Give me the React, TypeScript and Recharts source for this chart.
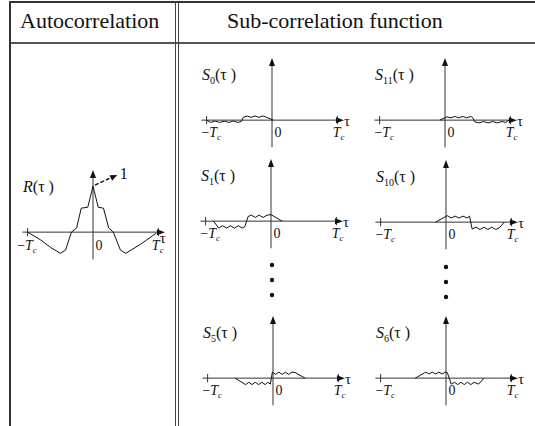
import React from 'react';
import {
  ComposedChart,
  ScatterChart,
  Line,
  Scatter,
  XAxis,
  YAxis,
  ReferenceLine,
} from 'recharts';

// tau in units of Tc, value normalised so R(0) = 1
const rTau = [-1, -0.8, -0.65, -0.5, -0.42, -0.33, -0.25, -0.18, -0.08, 0, 0.08, 0.16, 0.24, 0.31, 0.42, 0.5, 0.73, 0.97];
const rVal = [0, -0.17, -0.33, -0.46, -0.39, 0, 0.09, 0.52, 0.54, 1, 0.54, 0.52, 0.09, 0, -0.39, -0.46, -0.26, -0.02];

const s0Tau = [-1, -0.94, -0.87, -0.8, -0.73, -0.66, -0.59, -0.52, -0.47, -0.44, -0.38, -0.32, -0.26, -0.2, -0.14, -0.08, 0.02];
const s0Val = [0, -0.05, -0.02, -0.05, -0.02, -0.05, -0.02, -0.05, -0.03, 0.06, 0.09, 0.06, 0.09, 0.06, 0.09, 0.06, 0];

const s11Tau = [-0.08, 0.03, 0.09, 0.15, 0.21, 0.27, 0.33, 0.39, 0.42, 0.46, 0.52, 0.59, 0.66, 0.73, 0.8, 0.87, 0.93, 0.98];
const s11Val = [0, 0.07, 0.05, 0.08, 0.05, 0.08, 0.05, 0.08, 0.06, -0.04, -0.06, -0.03, -0.06, -0.03, -0.06, -0.03, -0.05, 0];

const s1Tau = [-0.88, -0.8, -0.74, -0.68, -0.62, -0.56, -0.5, -0.44, -0.4, -0.35, -0.3, -0.24, -0.18, -0.12, -0.06, 0, 0.17];
const s1Val = [0, -0.15, -0.1, -0.15, -0.1, -0.15, -0.1, -0.15, -0.12, 0.1, 0.13, 0.08, 0.13, 0.08, 0.13, 0.14, 0];

const s10Tau = [-0.16, 0.02, 0.08, 0.14, 0.2, 0.26, 0.32, 0.36, 0.4, 0.46, 0.52, 0.58, 0.64, 0.7, 0.76, 0.82, 0.89];
const s10Val = [0, 0.14, 0.09, 0.13, 0.09, 0.13, 0.09, 0.13, -0.15, -0.11, -0.16, -0.11, -0.16, -0.11, -0.16, -0.12, 0];

const s5Tau = [-0.58, -0.42, -0.37, -0.32, -0.27, -0.22, -0.17, -0.12, -0.08, -0.04, -0.01, 0.04, 0.09, 0.14, 0.19, 0.24, 0.29, 0.34, 0.49];
const s5Val = [0, -0.14, -0.09, -0.14, -0.09, -0.14, -0.09, -0.14, -0.09, -0.13, 0.13, 0.08, 0.13, 0.08, 0.13, 0.08, 0.13, 0.12, 0];

const s6Tau = [-0.47, -0.31, -0.26, -0.21, -0.16, -0.11, -0.06, -0.01, 0.02, 0.08, 0.13, 0.18, 0.23, 0.28, 0.33, 0.38, 0.43, 0.5, 0.58];
const s6Val = [0, 0.13, 0.09, 0.13, 0.09, 0.13, 0.09, 0.13, 0.12, -0.13, -0.09, -0.14, -0.09, -0.14, -0.09, -0.14, -0.09, -0.13, 0];

const dotRows = [1, 2, 3];

const headers = ['Autocorrelation', 'Sub-correlation function'];

type Pt = { t: number; v: number };
const zip = (ts: number[], vs: number[]): Pt[] => ts.map((t, i) => ({ t, v: vs[i] }));

const SERIF = '"Liberation Serif", "Times New Roman", serif';
const INK = '#111';
const AXIS = '#333';

const arrowRight = (p: any) => (
  <path d={`M${p.cx},${p.cy} L${p.cx - 8},${p.cy - 3} L${p.cx - 8},${p.cy + 3} Z`} fill={INK} />
);
const arrowUp = (p: any) => (
  <path d={`M${p.cx},${p.cy} L${p.cx - 3},${p.cy + 8} L${p.cx + 3},${p.cy + 8} Z`} fill={INK} />
);
const arrowTilt = (p: any) => (
  <path
    d={`M${p.cx},${p.cy} L${p.cx - 7},${p.cy - 3} L${p.cx - 7},${p.cy + 3} Z`}
    fill={INK}
    transform={`rotate(-25 ${p.cx} ${p.cy})`}
  />
);

const txt = (node: React.ReactNode, size = 14) => (p: any) => (
  <text x={p.cx} y={p.cy} fontFamily={SERIF} fontSize={size} fill={INK}>
    {node}
  </text>
);

const negTc = (
  <>
    −<tspan fontStyle="italic">T</tspan>
    <tspan fontStyle="italic" fontSize={9} dy={3}>c</tspan>
  </>
);
const posTc = (
  <>
    <tspan fontStyle="italic">T</tspan>
    <tspan fontStyle="italic" fontSize={9} dy={3}>c</tspan>
  </>
);

function nameLabel(letter: string, sub?: string) {
  return (
    <>
      <tspan fontStyle="italic">{letter}</tspan>
      {sub ? (
        <>
          <tspan fontSize={10} dy={4}>{sub}</tspan>
          <tspan dy={-4}>(τ )</tspan>
        </>
      ) : (
        <tspan>(τ )</tspan>
      )}
    </>
  );
}

type LabelPos = { neg: number; pos: number; tauX: number; tauY: number; base: number };
const subPos: LabelPos = { neg: -1.08, pos: 0.93, tauX: 1.1, tauY: -0.13, base: -0.37 };
const rPos: LabelPos = { neg: -1.16, pos: 0.9, tauX: 1.02, tauY: -0.24, base: -0.39 };

function CorrPlot({
  left,
  top,
  data,
  letter,
  sub,
  peak,
  lp = subPos,
}: {
  left: number;
  top: number;
  data: Pt[];
  letter: string;
  sub?: string;
  peak?: boolean;
  lp?: LabelPos;
}) {
  const at = (t: number, v: number) => [{ t, v }];
  return (
    <div style={{ position: 'absolute', left, top }}>
      <ComposedChart width={170} height={106} data={data} margin={{ top: 0, right: 0, bottom: 0, left: 0 }}>
        <XAxis type="number" dataKey="t" domain={[-1.3, 1.3]} hide />
        <YAxis type="number" dataKey="v" domain={[-0.8, 1.5]} hide />
        <ReferenceLine segment={[{ x: -1.08, y: 0 }, { x: 1.02, y: 0 }]} stroke={AXIS} ifOverflow="visible" />
        <ReferenceLine segment={[{ x: 0, y: -0.59 }, { x: 0, y: 1.2 }]} stroke={AXIS} ifOverflow="visible" />
        <ReferenceLine segment={[{ x: -1, y: -0.09 }, { x: -1, y: 0.09 }]} stroke={AXIS} ifOverflow="visible" />
        <ReferenceLine segment={[{ x: 1, y: -0.09 }, { x: 1, y: 0.09 }]} stroke={AXIS} ifOverflow="visible" />
        {peak && (
          <ReferenceLine
            segment={[{ x: 0.03, y: 1.02 }, { x: 0.3, y: 1.2 }]}
            stroke={INK}
            strokeWidth={1.5}
            strokeDasharray="4 2"
            ifOverflow="visible"
          />
        )}
        <Line dataKey="v" type="linear" stroke={INK} strokeWidth={1} dot={false} isAnimationActive={false} />
        <Scatter data={at(1.1, 0)} shape={arrowRight} isAnimationActive={false} />
        <Scatter data={at(0, 1.35)} shape={arrowUp} isAnimationActive={false} />
        {peak && <Scatter data={at(0.37, 1.24)} shape={arrowTilt} isAnimationActive={false} />}
        {peak && <Scatter data={at(0.41, 1.15)} shape={txt('1', 16)} isAnimationActive={false} />}
        <Scatter data={at(lp.neg, lp.base)} shape={txt(negTc)} isAnimationActive={false} />
        <Scatter data={at(0.04, lp.base)} shape={txt('0')} isAnimationActive={false} />
        <Scatter data={at(lp.pos, lp.base)} shape={txt(posTc)} isAnimationActive={false} />
        <Scatter data={at(lp.tauX, lp.tauY)} shape={txt('τ', 15)} isAnimationActive={false} />
        <Scatter data={at(-1.07, 0.86)} shape={txt(nameLabel(letter, sub), 16)} isAnimationActive={false} />
      </ComposedChart>
    </div>
  );
}

function Ellipsis({ left, top }: { left: number; top: number }) {
  const dots = dotRows.map((y) => ({ x: 0, y }));
  return (
    <div style={{ position: 'absolute', left, top }}>
      <ScatterChart width={20} height={60} margin={{ top: 0, right: 0, bottom: 0, left: 0 }}>
        <XAxis type="number" dataKey="x" domain={[-1, 1]} hide />
        <YAxis type="number" dataKey="y" domain={[0, 4]} hide />
        <Scatter data={dots} fill={INK} shape={(p: any) => <circle cx={p.cx} cy={p.cy} r={2.2} fill={INK} />} isAnimationActive={false} />
      </ScatterChart>
    </div>
  );
}

const line = (l: number, t: number, w: number, h: number, c = '#333') => (
  <div style={{ position: 'absolute', left: l, top: t, width: w, height: h, background: c }} />
);

export default function App() {
  return (
    <div
      style={{
        position: 'absolute',
        left: 0,
        top: 0,
        width: 535,
        height: 426,
        background: '#fff',
        overflow: 'hidden',
        fontFamily: SERIF,
      }}
    >
      {line(10, 1, 525, 2)}
      {line(10, 42, 525, 2, '#555')}
      {line(9, 1, 2, 425)}
      {line(175, 1, 1, 425, '#444')}
      {line(178, 1, 1, 425, '#444')}
      <div style={{ position: 'absolute', left: 20, top: 10, fontSize: 22, lineHeight: '22px', color: INK }}>
        {headers[0]}
      </div>
      <div style={{ position: 'absolute', left: 227, top: 10, fontSize: 22, lineHeight: '22px', color: INK }}>
        {headers[1]}
      </div>

      <CorrPlot left={7.5} top={163} data={zip(rTau, rVal)} letter="R" peak lp={rPos} />

      <CorrPlot left={187} top={51} data={zip(s0Tau, s0Val)} letter="S" sub="0" />
      <CorrPlot left={360} top={50.5} data={zip(s11Tau, s11Val)} letter="S" sub="11" />
      <CorrPlot left={186} top={152} data={zip(s1Tau, s1Val)} letter="S" sub="1" />
      <CorrPlot left={360.5} top={152.5} data={zip(s10Tau, s10Val)} letter="S" sub="10" />
      <CorrPlot left={187.5} top={309} data={zip(s5Tau, s5Val)} letter="S" sub="5" />
      <CorrPlot left={360.5} top={308.5} data={zip(s6Tau, s6Val)} letter="S" sub="6" />

      <Ellipsis left={261.7} top={250} />
      <Ellipsis left={435.7} top={251.7} />
    </div>
  );
}
